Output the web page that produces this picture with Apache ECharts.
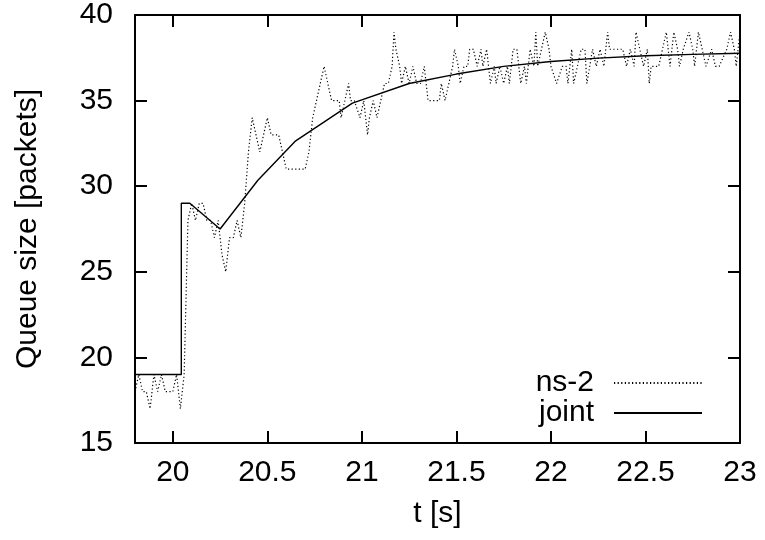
<!DOCTYPE html>
<html>
<head>
<meta charset="utf-8">
<script src="https://cdn.jsdelivr.net/npm/echarts@6/dist/echarts.min.js"></script>
<style>html,body{margin:0;padding:0;background:#fff;}#c{width:765px;height:540px;}</style>
</head>
<body>
<div id="c"></div>
<script>
// ---- data ----
const xTicks = [20, 20.5, 21, 21.5, 22, 22.5, 23];
const yTicks = [15, 20, 25, 30, 35, 40];

const ns2T = [19.80,19.82,19.84,19.86,19.88,19.90,19.92,19.94,19.96,19.98,20.00,20.02,20.04,20.06,20.08,20.10,20.12,20.14,20.16,20.18,20.20,20.22,20.24,20.26,20.28,20.30,20.32,20.34,20.36,20.38,20.40,20.42,20.44,20.46,20.48,20.50,20.52,20.54,20.56,20.58,20.60,20.62,20.64,20.66,20.68,20.70,20.72,20.74,20.76,20.78,20.80,20.82,20.84,20.86,
20.88,20.89,20.91,20.93,20.94,20.96,20.97,20.99,21.01,21.03,21.04,21.06,21.08,21.10,21.12,21.14,21.16,21.17,21.18,21.20,21.21,21.23,21.25,21.27,21.29,21.31,21.33,21.35,21.37,21.39,21.41,21.42,21.44,21.46,21.48,21.49,21.51,21.52,21.54,21.56,21.57,21.59,21.61,21.63,21.64,21.66,21.68,21.70,21.71,21.73,21.75,21.77,21.78,21.80,21.82,21.84,21.86,21.87,21.89,21.91,21.92,21.93,21.95,21.97,21.99,22.00,22.01,22.03,22.04,22.06,22.08,22.09,22.11,22.12,22.14,22.16,22.18,22.19,22.20,22.22,22.24,22.26,22.28,22.30,22.31,22.33,22.35,22.38,22.40,22.42,22.44,22.45,22.47,22.49,22.51,22.52,22.53,22.55,22.57,22.59,22.61,22.63,22.65,22.67,22.68,22.70,22.73,22.75,22.76,22.78,22.80,22.82,22.83,22.85,22.87,22.89,22.90,22.93,22.95,22.97,22.98,23.00];
const ns2V = [18,19,18,18,17,19,18,19,18,18,18,19,17,19,28,29,28,29,29,28,28,27,28,26,25,27,27,28,27,29,32,34,33,32,33,34,33,33,33,32,31,31,31,31,31,31,32,34,35,36,37,36,35,35,
35,34,35,36,35,35,35,34,35,33,34,35,34,35,36,36,37,39,38,37,36,37,36,37,36,36,37,35,35,35,35,36,35,36,37,38,37,36,37,37,38,38,37,38,37,38,36,37,36,37,36,37,36,38,38,36,37,36,38,37,39,37,38,39,38,37,37,36,36,37,37,36,38,36,37,38,38,36,36,38,37,38,37,39,38,38,38,38,37,38,37,39,38,37,38,36,37,37,37,38,39,37,39,38,37,38,39,38,37,39,38,37,37,38,37,37,37,38,39,38,37,39];

const jointT = [19.80, 20.045, 20.045, 20.09, 20.25, 20.45, 20.65, 20.95, 21.25, 21.50, 21.75, 22.00, 22.25, 22.50, 22.75, 23.00];
const jointV = [19, 19, 29, 29, 27.5, 30.35, 32.65, 34.85, 36.0, 36.55, 37.0, 37.28, 37.48, 37.62, 37.70, 37.77];

const seriesNames = ['ns-2', 'joint'];
// ---------------

const FONT = '"Liberation Sans", Arial, Helvetica, sans-serif';
const pairs = (t, v) => t.map((x, i) => [x, v[i]]);

const chart = echarts.init(document.getElementById('c'), null, {renderer: 'canvas'});
const axisLine = {show: true, lineStyle: {color: '#000', width: 2}};
const tickX = {show: true, inside: true, length: 12, lineStyle: {color: '#000', width: 2}, customValues: xTicks};
const tickY = {show: true, inside: true, length: 12, lineStyle: {color: '#000', width: 2}, customValues: yTicks};

chart.setOption({
  animation: false,
  backgroundColor: '#fff',
  grid: {left: 135, right: 25, top: 15, bottom: 97, containLabel: false},
  xAxis: [{
    type: 'value', min: 19.8, max: 23, position: 'bottom',
    name: 't [s]', nameLocation: 'middle', nameGap: 56,
    nameTextStyle: {fontFamily: FONT, fontSize: 30, color: '#000'},
    axisLine: axisLine, axisTick: tickX,
    axisLabel: {show: true, margin: 15, fontFamily: FONT, fontSize: 30, color: '#000', customValues: xTicks},
    splitLine: {show: false}
  }, {
    type: 'value', min: 19.8, max: 23, position: 'top',
    axisLine: axisLine, axisTick: tickX,
    axisLabel: {show: false, customValues: xTicks}, splitLine: {show: false}
  }],
  yAxis: [{
    type: 'value', min: 15, max: 40, interval: 5, position: 'left',
    name: 'Queue size [packets]', nameLocation: 'middle', nameGap: 92, nameRotate: 90,
    nameTextStyle: {fontFamily: FONT, fontSize: 30, color: '#000'},
    axisLine: axisLine, axisTick: tickY,
    axisLabel: {show: true, margin: 22, fontFamily: FONT, fontSize: 30, color: '#000', customValues: yTicks},
    splitLine: {show: false}
  }, {
    type: 'value', min: 15, max: 40, interval: 5, position: 'right',
    axisLine: axisLine, axisTick: tickY,
    axisLabel: {show: false, customValues: yTicks}, splitLine: {show: false}
  }],
  legend: {
    show: true, orient: 'vertical', align: 'right',
    right: 62, top: 368, padding: 0, itemGap: 0,
    itemWidth: 88, itemHeight: 30, selectedMode: false,
    data: seriesNames,
    itemStyle: {color: 'rgba(0,0,0,0)', borderWidth: 0, opacity: 0},
    textStyle: {fontFamily: FONT, fontSize: 30, color: '#000', lineHeight: 30, padding: [0, 15, 0, 0]}
  },
  series: [{
    name: seriesNames[0], type: 'line', xAxisIndex: 0, yAxisIndex: 0,
    data: pairs(ns2T, ns2V), symbol: 'none', smooth: false,
    lineStyle: {color: '#000', width: 1.2, type: [1.2, 2.4]},
    itemStyle: {color: '#000'}
  }, {
    name: seriesNames[1], type: 'line', xAxisIndex: 0, yAxisIndex: 0,
    data: pairs(jointT, jointV), symbol: 'none', smooth: false,
    lineStyle: {color: '#000', width: 1.4, type: 'solid'},
    itemStyle: {color: '#000'}
  }]
});
</script>
</body>
</html>
